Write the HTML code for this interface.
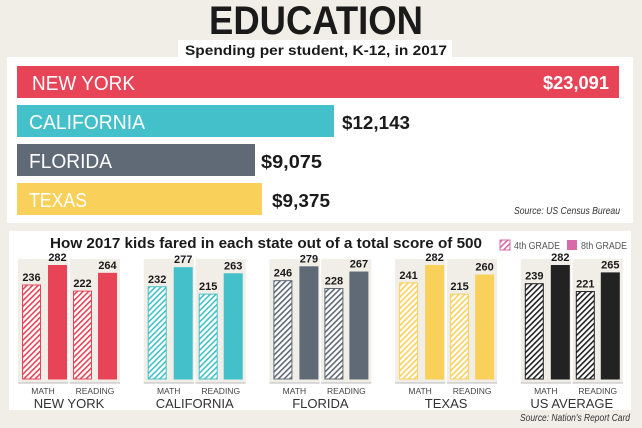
<!DOCTYPE html>
<html><head><meta charset="utf-8"><style>
html,body{margin:0;padding:0;background:#f1eee8;}
svg{display:block;font-family:"Liberation Sans",sans-serif;}
</style></head><body>
<svg width="642" height="428" viewBox="0 0 642 428" xmlns="http://www.w3.org/2000/svg">
<defs>
<pattern id="hr" width="4" height="4" patternUnits="userSpaceOnUse" patternTransform="rotate(45)"><rect width="4" height="4" fill="#fff"/><rect width="1.6" height="4" fill="#e84457"/></pattern>
<pattern id="hc" width="4" height="4" patternUnits="userSpaceOnUse" patternTransform="rotate(45)"><rect width="4" height="4" fill="#fff"/><rect width="1.6" height="4" fill="#43c0c9"/></pattern>
<pattern id="hf" width="4" height="4" patternUnits="userSpaceOnUse" patternTransform="rotate(45)"><rect width="4" height="4" fill="#fff"/><rect width="1.6" height="4" fill="#5f6a76"/></pattern>
<pattern id="ht" width="4" height="4" patternUnits="userSpaceOnUse" patternTransform="rotate(45)"><rect width="4" height="4" fill="#fff"/><rect width="1.6" height="4" fill="#f8d05a"/></pattern>
<pattern id="hu" width="4" height="4" patternUnits="userSpaceOnUse" patternTransform="rotate(45)"><rect width="4" height="4" fill="#fff"/><rect width="1.6" height="4" fill="#222"/></pattern>
<pattern id="hp" width="4" height="4" patternUnits="userSpaceOnUse" patternTransform="rotate(45)"><rect width="4" height="4" fill="#fff"/><rect width="1.6" height="4" fill="#d86aa8"/></pattern>
</defs>
<rect width="642" height="428" fill="#f1eee8"/>
<text x="316" y="34" text-anchor="middle" font-size="40" font-weight="900" fill="#1a1a1a" textLength="214" lengthAdjust="spacingAndGlyphs">EDUCATION</text>
<rect x="7" y="57" width="626" height="166" fill="#fff"/>
<rect x="178" y="40" width="274" height="20" fill="#fff"/>
<text x="316" y="55" text-anchor="middle" font-size="14" font-weight="bold" fill="#1a1a1a" textLength="262" lengthAdjust="spacingAndGlyphs">Spending per student, K-12, in 2017</text>
<rect x="17" y="66" width="602" height="32" fill="#e84457"/>
<rect x="17" y="105" width="317" height="32" fill="#43c0c9"/>
<rect x="17" y="144" width="238" height="32" fill="#5f6a76"/>
<rect x="17" y="183" width="245" height="32" fill="#f8d05a"/>
<g font-size="20" fill="#fff">
<text x="32" y="90" textLength="103" lengthAdjust="spacingAndGlyphs">NEW YORK</text>
<text x="29" y="129" textLength="116" lengthAdjust="spacingAndGlyphs">CALIFORNIA</text>
<text x="29" y="168" textLength="83" lengthAdjust="spacingAndGlyphs">FLORIDA</text>
<text x="29" y="207" textLength="58" lengthAdjust="spacingAndGlyphs">TEXAS</text>
</g>
<g font-size="18" font-weight="bold">
<text x="543" y="89" fill="#fff" textLength="66" lengthAdjust="spacingAndGlyphs">$23,091</text>
<text x="342" y="129" fill="#1a1a1a" textLength="68" lengthAdjust="spacingAndGlyphs">$12,143</text>
<text x="261" y="168" fill="#1a1a1a" textLength="61" lengthAdjust="spacingAndGlyphs">$9,075</text>
<text x="272" y="207" fill="#1a1a1a" textLength="58" lengthAdjust="spacingAndGlyphs">$9,375</text>
</g>
<text x="620" y="214" text-anchor="end" font-size="10" font-style="italic" fill="#333" textLength="106" lengthAdjust="spacingAndGlyphs">Source: US Census Bureau</text>

<rect x="9" y="231" width="622" height="179" fill="#fff"/>
<text x="50" y="248" font-size="15" font-weight="900" fill="#1a1a1a" textLength="432" lengthAdjust="spacingAndGlyphs">How 2017 kids fared in each state out of a total score of 500</text>
<rect x="500" y="240" width="10" height="10" fill="url(#hp)" stroke="#d86aa8" stroke-width="1"/>
<text x="514" y="249" font-size="10" fill="#555" textLength="46" lengthAdjust="spacingAndGlyphs">4th GRADE</text>
<rect x="567" y="240" width="10" height="10" fill="#d86aa8"/>
<text x="581" y="249" font-size="10" fill="#555" textLength="46" lengthAdjust="spacingAndGlyphs">8th GRADE</text>
<text x="630" y="421" text-anchor="end" font-size="10" font-style="italic" fill="#333" textLength="110" lengthAdjust="spacingAndGlyphs">Source: Nation's Report Card</text>

<g id="groups" font-weight="bold" font-size="11" fill="#1a1a1a"></g>
</svg>
<script>
var g=document.getElementById('groups');
var data=[
 ["NEW YORK","#e84457","hr",[236,282,222,264]],
 ["CALIFORNIA","#43c0c9","hc",[232,277,215,263]],
 ["FLORIDA","#5f6a76","hf",[246,279,228,267]],
 ["TEXAS","#f8d05a","ht",[241,282,215,260]],
 ["US AVERAGE","#222","hu",[239,282,221,265]]];
var h="";
function y(v){return 265+(282-v)*0.435;}
data.forEach(function(d,i){
 var x0=18+i*125.7;
 h+='<rect x="'+x0+'" y="259" width="102" height="124" fill="#f1eee8"/>';
 h+='<line x1="'+x0+'" y1="383" x2="'+(x0+102)+'" y2="383" stroke="#bbb" stroke-width="1"/>';
 h+='<line x1="'+(x0+51)+'" y1="259" x2="'+(x0+51)+'" y2="386" stroke="#fff" stroke-width="1.5"/>';
 var xs=[4,30,55,80];
 d[3].forEach(function(v,j){
  var bx=x0+xs[j],by=y(v);
  if(j%2==0) h+='<rect x="'+(bx+0.5)+'" y="'+by+'" width="18" height="'+(379-by)+'" fill="url(#'+d[2]+')" stroke="'+d[1]+'" stroke-width="1"/>';
  else h+='<rect x="'+bx+'" y="'+by+'" width="19" height="'+(379.5-by)+'" fill="'+d[1]+'"/>';
  h+='<text x="'+(bx+9.5)+'" y="'+(by-4)+'" text-anchor="middle">'+v+'</text>';
 });
 h+='<text x="'+(x0+25)+'" y="394" text-anchor="middle" font-weight="normal" font-size="8.5" fill="#444">MATH</text>';
 h+='<text x="'+(x0+77)+'" y="394" text-anchor="middle" font-weight="normal" font-size="8.5" fill="#444">READING</text>';
 h+='<text x="'+(x0+51)+'" y="408" text-anchor="middle" font-weight="normal" font-size="13" fill="#333">'+d[0]+'</text>';
});
g.innerHTML=h;
</script>
</body></html>
